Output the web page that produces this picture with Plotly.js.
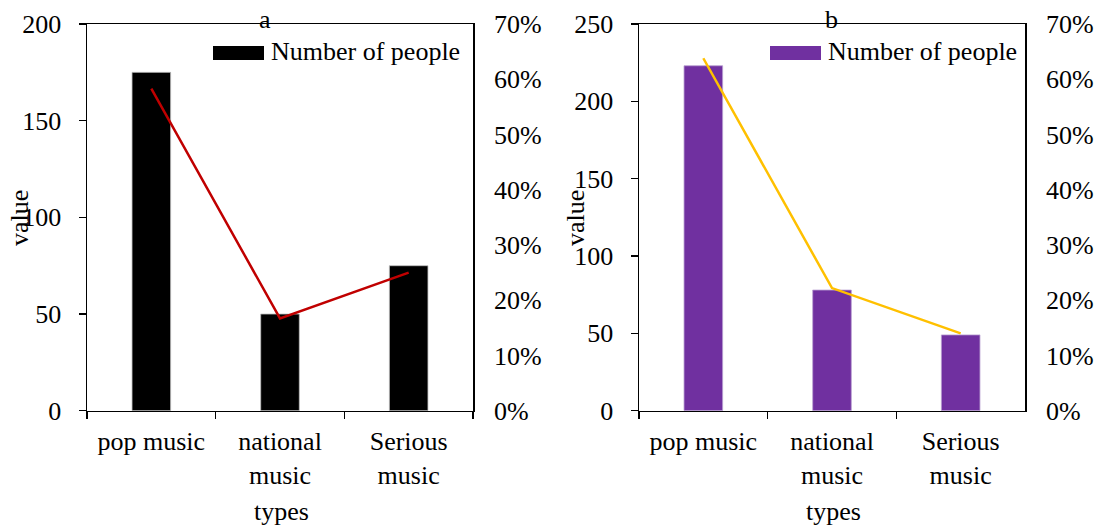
<!DOCTYPE html>
<html>
<head>
<meta charset="utf-8">
<script src="https://cdn.plot.ly/plotly-3.0.1.min.js"></script>
<style>
  html, body { margin: 0; padding: 0; background: #ffffff; }
  #chart { width: 1101px; height: 526px; }
</style>
</head>
<body>
<div id="chart"></div>
<script>
// Music type survey: head counts (bars) and share of respondents (line)
const categories = ['pop music', 'national<br>music', 'Serious<br>music'];

// Panel a
const peopleA = [175, 50, 75];
const shareA = [0.583, 0.167, 0.250];

// Panel b
const peopleB = [223, 78, 49];
const shareB = [0.638, 0.222, 0.140];

const panelLabels = ['a', 'b'];
const legendLabel = 'Number of people';
const yTitle = 'value';
const xTitle = 'types';

const W = 1101, H = 526;
const FONT = 'Liberation Serif';
const px = v => v / W;
const py = v => 1 - v / H;

// plot areas in pixels
const panels = [
  { left: 87, right: 473, bar: '#000000', line: '#C00000' },
  { left: 639, right: 1025, bar: '#7030A0', line: '#FFC000' }
];
const TOP = 24, BOTTOM = 410.7;

const tickFont = { family: FONT, size: 26, color: '#000' };

function xAxis(p, anchor) {
  return {
    domain: [px(p.left), px(p.right)],
    anchor: anchor,
    type: 'category',
    tickson: 'boundaries',
    ticks: 'outside', ticklen: 7, tickwidth: 1.5, tickcolor: '#000',
    showline: true, linecolor: '#000', linewidth: 1.5, mirror: true,
    showgrid: false, zeroline: false,
    tickfont: tickFont,
    ticklabelstandoff: 7,
    fixedrange: true
  };
}
function yAxisLeft(anchor, maxV) {
  return {
    domain: [py(BOTTOM), py(TOP)],
    anchor: anchor,
    range: [0, maxV], dtick: 50, tick0: 0,
    ticks: 'outside', ticklen: 7, tickwidth: 1.5, tickcolor: '#000',
    showline: true, linecolor: '#000', linewidth: 1.5, mirror: true,
    showgrid: false, zeroline: false,
    tickfont: tickFont,
    ticklabelstandoff: 12,
    fixedrange: true
  };
}
function yAxisRight(anchor, overlay) {
  return {
    domain: [py(BOTTOM), py(TOP)],
    anchor: anchor,
    overlaying: overlay, side: 'right',
    range: [0, 0.7], dtick: 0.1, tick0: 0, tickformat: '.0%',
    ticks: '', showline: false, showgrid: false, zeroline: false,
    tickfont: tickFont,
    ticklabelstandoff: 20,
    fixedrange: true
  };
}

const traces = [
  { type: 'bar', x: categories, y: peopleA, xaxis: 'x', yaxis: 'y', width: 0.3,
    marker: { color: panels[0].bar, line: { color: '#bfbfbf', width: 0.8 } }, showlegend: false },
  { type: 'scatter', mode: 'lines', x: categories, y: shareA, xaxis: 'x', yaxis: 'y2',
    line: { color: panels[0].line, width: 2.5 }, showlegend: false },
  { type: 'bar', x: categories, y: peopleB, xaxis: 'x3', yaxis: 'y3', width: 0.3,
    marker: { color: panels[1].bar, line: { color: '#b9a0d0', width: 0.8 } }, showlegend: false },
  { type: 'scatter', mode: 'lines', x: categories, y: shareB, xaxis: 'x3', yaxis: 'y4',
    line: { color: panels[1].line, width: 2.5 }, showlegend: false }
];

const annotations = [];
const shapes = [];
const textFont = { family: FONT, size: 26, color: '#000' };
const titleX = [265, 832];
const valueX = [19, 575];
const swatchX = [213, 770];

panels.forEach((p, i) => {
  annotations.push({ xref: 'paper', yref: 'paper', x: px(titleX[i]), y: py(19),
    text: panelLabels[i], showarrow: false, xanchor: 'center', yanchor: 'middle', font: textFont });
  annotations.push({ xref: 'paper', yref: 'paper', x: px(valueX[i]), y: py(218),
    text: yTitle, textangle: -90, showarrow: false, xanchor: 'center', yanchor: 'middle', font: textFont });
  annotations.push({ xref: 'paper', yref: 'paper', x: px((p.left + p.right) / 2 + 1), y: py(511),
    text: xTitle, showarrow: false, xanchor: 'center', yanchor: 'middle', font: textFont });
  annotations.push({ xref: 'paper', yref: 'paper', x: px(swatchX[i] + 56), y: py(52),
    text: legendLabel, showarrow: false, xanchor: 'left', yanchor: 'middle', font: textFont });
  shapes.push({ type: 'rect', xref: 'paper', yref: 'paper',
    x0: px(swatchX[i]), x1: px(swatchX[i] + 51), y0: py(60), y1: py(46),
    fillcolor: p.bar, line: { width: 0 } });
});

const layout = {
  width: W, height: H,
  margin: { l: 0, r: 0, t: 0, b: 0, pad: 0 },
  paper_bgcolor: '#fff', plot_bgcolor: 'rgba(0,0,0,0)',
  showlegend: false,
  font: { family: FONT, color: '#000' },
  xaxis: xAxis(panels[0], 'y'),
  yaxis: yAxisLeft('x', 200),
  yaxis2: yAxisRight('x', 'y'),
  xaxis3: xAxis(panels[1], 'y3'),
  yaxis3: yAxisLeft('x3', 250),
  yaxis4: yAxisRight('x3', 'y3'),
  annotations: annotations,
  shapes: shapes
};

Plotly.newPlot('chart', traces, layout, { staticPlot: true, displayModeBar: false });
</script>
</body>
</html>
